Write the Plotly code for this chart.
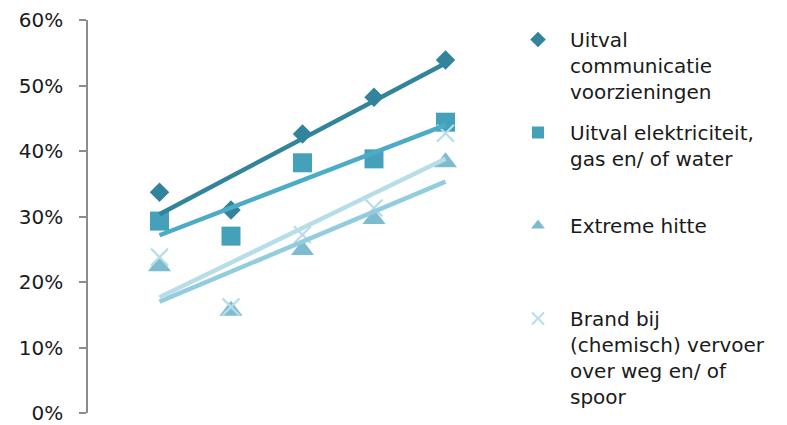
import numpy as np
import plotly.graph_objects as go

# ---- data ----
x_pos = [1, 2, 3, 4, 5]
names = [
    "Uitval<br>communicatie<br>voorzieningen",
    "Uitval elektriciteit,<br>gas en/ of water",
    "Extreme hitte",
    "Brand bij<br>(chemisch) vervoer<br>over weg en/ of<br>spoor",
]
comm = [0.337, 0.310, 0.426, 0.482, 0.539]
elek = [0.293, 0.270, 0.382, 0.388, 0.444]
hitte = [0.224, 0.156, 0.249, 0.296, 0.383]
brand = [0.238, 0.162, 0.272, 0.313, 0.427]
y_ticks = [0, 0.1, 0.2, 0.3, 0.4, 0.5, 0.6]

series = [comm, elek, hitte, brand]
marker_colors = ["#31849B", "#45A1B9", "#7DBCCF", "#B7DDE8"]
line_colors = ["#31849B", "#4BACC6", "#93CDDD", "#B7DEE8"]
symbols = ["diamond", "square", "triangle-up", "x-thin"]
sizes = [15, 19, 20, 17]
legend_ids = ["legend", "legend2", "legend3", "legend4"]

FONT = "DejaVu Sans"
FS = 20
W, H = 787, 425
OFF = 8  # page body margin of the browser

fig = go.Figure()
for i, ys in enumerate(series):
    mk = dict(symbol=symbols[i], size=sizes[i], color=marker_colors[i])
    if symbols[i] == "x-thin":
        mk["line"] = dict(color=marker_colors[i], width=2.2)
    fig.add_trace(go.Scatter(
        x=x_pos, y=ys, mode="markers", name=names[i], marker=mk,
        legend=legend_ids[i], showlegend=True,
    ))

for i, ys in enumerate(series):
    a, b = np.polyfit(x_pos, ys, 1)
    xs = np.array([x_pos[0], x_pos[-1]])
    fig.add_trace(go.Scatter(
        x=xs, y=a * xs + b, mode="lines", showlegend=False,
        line=dict(color=line_colors[i], width=4.5),
        hoverinfo="skip",
    ))

ml, mt = 88 - OFF, 20 - OFF
plot_right, plot_bottom = 517 - OFF, 413 - OFF
mr, mb = W - plot_right, H - plot_bottom
ph = H - mt - mb
pw = W - ml - mr

layout = dict(
    width=W, height=H,
    margin=dict(l=ml, r=mr, t=mt, b=mb, autoexpand=False),
    paper_bgcolor="white", plot_bgcolor="white",
    font=dict(family=FONT, size=FS, color="#1a1a1a"),
    xaxis=dict(range=[0, 6], visible=False),
    yaxis=dict(
        range=[0, 0.6], tickvals=y_ticks, tickformat=".0%",
        showgrid=False, zeroline=False, automargin=False,
        showline=True, linecolor="#8c8c8c", linewidth=1.5,
        ticks="outside", ticklen=7, tickcolor="#8c8c8c", tickwidth=1.5,
        ticklabelstandoff=12,
        tickfont=dict(family=FONT, size=FS, color="#1a1a1a"),
    ),
)
tops = [12, 105, 198, 291]  # pixel y (from figure top) for each legend's top
for i, lid in enumerate(legend_ids):
    layout[lid] = dict(
        x=(498 - ml) / pw, xanchor="left",
        y=(H - mb - tops[i]) / ph, yanchor="top",
        valign="top", itemsizing="constant",
        font=dict(family=FONT, size=FS, color="#1a1a1a"),
        bgcolor="rgba(0,0,0,0)", itemwidth=54,
    )
fig.update_layout(**layout)
fig.write_html("out.html")
